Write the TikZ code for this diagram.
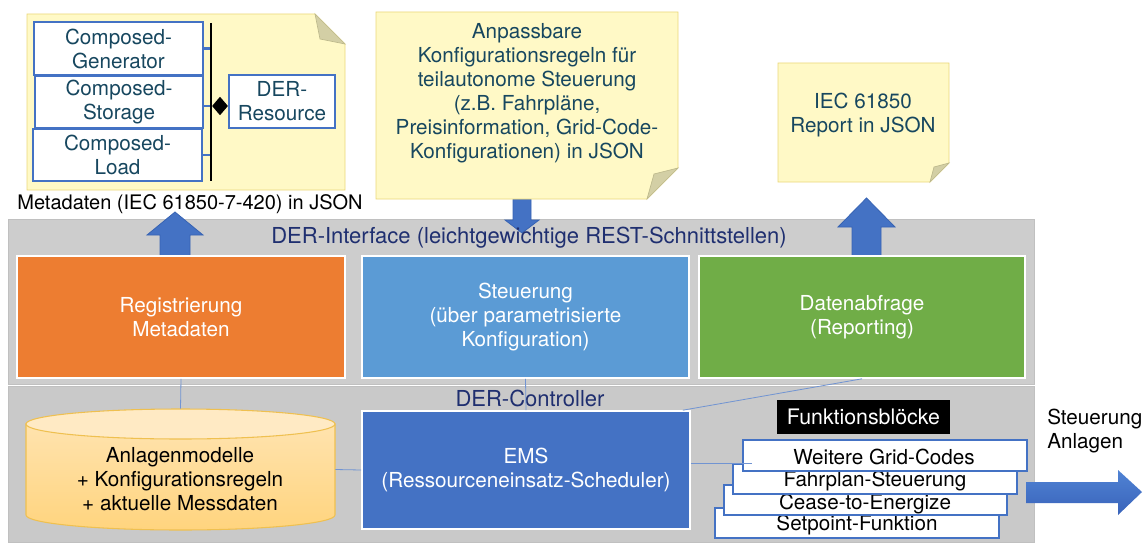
\documentclass[tikz,border=0pt]{standalone}
\usepackage{fontspec}
\setmainfont{TeX Gyre Heros}
\usetikzlibrary{fit,calc,shapes.geometric}

\definecolor{notefill}{HTML}{FFF9C6}
\definecolor{noteedge}{HTML}{EBD77A}
\definecolor{foldfill}{HTML}{D3CFA5}
\definecolor{foldedge}{HTML}{BDB98C}
\definecolor{notetext}{HTML}{17475F}
\definecolor{umlblue}{HTML}{4472C4}
\definecolor{bandgray}{HTML}{CDCDCD}
\definecolor{bandgraylow}{HTML}{C9C9C9}
\definecolor{bandedge}{HTML}{C0C0C0}
\definecolor{labelnavy}{HTML}{1F2F70}
\definecolor{orangebox}{HTML}{ED7D31}
\definecolor{bluebox}{HTML}{5B9BD5}
\definecolor{greenbox}{HTML}{70AD47}
\definecolor{emsblue}{HTML}{4472C4}
\definecolor{arrowblue}{HTML}{4472C4}
\definecolor{arrowedge}{HTML}{3763B3}
\definecolor{arrowlight}{HTML}{5083D4}
\definecolor{arrowdark}{HTML}{3963BA}
\definecolor{linkblue}{HTML}{7194D2}
\definecolor{cyltop}{HTML}{FFEAC4}
\definecolor{cylhigh}{HTML}{FFE3AE}
\definecolor{cyllow}{HTML}{FFD47E}
\definecolor{cyledge}{HTML}{EFC050}

\begin{document}
\begin{tikzpicture}[x=0.75pt, y=-0.75pt,
  every node/.style={font=\fontsize{15.5}{18}\selectfont, inner sep=0pt, align=center},
  area/.style={fit={#1}, inner sep=0pt},
  notepaper/.style={fill=notefill, draw=noteedge, line width=0.6pt},
  notefold/.style={fill=foldfill, draw=foldedge, line width=0.5pt},
  umlbox/.style={draw=umlblue, line width=0.8pt, fill=white},
  notelabel/.style={text=notetext},
  layerlabel/.style={text=labelnavy, font=\fontsize{16.5}{19}\selectfont},
  layer/.style={draw=bandedge, line width=0.5pt},
  func/.style={draw=white, line width=1.2pt},
  funclabel/.style={text=white},
  funcblock/.style={draw=umlblue, line width=0.8pt, fill=white},
  link/.style={draw=linkblue, line width=0.6pt},
  bustick/.style={draw=umlblue, line width=1.6pt},
  bigarrow/.style={fill=arrowblue, draw=arrowedge, line width=0.6pt},
]
\useasboundingbox (0,0) rectangle (1148,542);

% ---- two layers of the DER stack
\node[layer, fill=bandgray, area={(8,219) (1034,384)}] (iface) {};
\node[layer, fill=bandgraylow, area={(8,386) (1034,542)}] (ctrl) {};

% ---- block arrows between the JSON documents and the interface
\path[bigarrow] (160,256) -- (160,235) -- (147,235) -- (175,212) -- (203,235)
  -- (190,235) -- (190,256) -- cycle;
\path[bigarrow] (513,199) -- (531,199) -- (531,220) -- (539,220) -- (522,233)
  -- (505,220) -- (513,220) -- cycle;
\path[bigarrow] (852,256) -- (852,227) -- (838,227) -- (866.5,198) -- (895,227)
  -- (881,227) -- (881,256) -- cycle;

\node[layerlabel] (ifacelbl) at (529,238) {DER-Interface (leichtgewichtige REST-Schnittstellen)};
\node[layerlabel] (ctrllbl) at (530,398) {DER-Controller};

% ---- interface functions
\node[func, fill=orangebox, area={(17,256) (345,378)}] (reg) {};
\node[funclabel] (regtext) at (reg.center) {Registrierung\\Metadaten};
\node[func, fill=bluebox, area={(362,256) (689,378)}] (ctl) {};
\node[funclabel] (ctltext) at (ctl.center) {Steuerung\\(über parametrisierte\\Konfiguration)};
\node[func, fill=greenbox, area={(699,256) (1025,378)}] (rep) {};
\node[funclabel] (reptextbox) at (rep.center) {Datenabfrage\\(Reporting)};

% ---- data store (cylinder)
\path[draw=cyledge, line width=0.8pt, top color=cylhigh, bottom color=cyllow]
  (26,424) -- (26,515) arc[start angle=180, end angle=0, x radius=154.5, y radius=15]
  -- (335,424) -- cycle;
\path[draw=cyledge, line width=0.8pt, fill=cyltop] (180.5,424) ellipse [x radius=154.5, y radius=15];
\node[area={(26,409) (335,530)}] (db) {};
\node (dbtext) at (180,479) {Anlagenmodelle\\+ Konfigurationsregeln\\+ aktuelle Messdaten};

% ---- scheduler
\node[func, fill=emsblue, area={(362,411) (690,529)}] (ems) {};
\node[funclabel] (emstext) at (ems.center) {EMS\\(Ressourceneinsatz-Scheduler)};

% ---- function blocks
\node[fill=black, area={(777,400) (950,434)}] (fb) {};
\node[funclabel, font=\fontsize{16}{19}\selectfont] (fbtext) at (fb.center) {Funktionsblöcke};
\node[funcblock, area={(715,508) (999,538)}] (sp) {};
\node (sptext) at (857,525) {Setpoint-Funktion};
\node[funcblock, area={(724,485) (1007,515)}] (ce) {};
\node (cetext) at (865,504) {Cease-to-Energize};
\node[funcblock, area={(733,464) (1017,494)}] (fp) {};
\node (fptext) at (875,481) {Fahrplan-Steuerung};
\node[funcblock, area={(743,440) (1027,471)}] (wg) {};
\node (wgtext) at (884,457) {Weitere Grid-Codes};
\coordinate (wgin) at (752,463);

% ---- thin connections
\draw[link] (reg.south) -- (db.north);
\draw[link] (ctl.south) -- (ems.north);
\draw[link] (rep.south) -- ([xshift=-6pt]ems.north east);
\draw[link] (db.east) -- (ems.west);
\draw[link] (ems.east |- wgin) -- (wgin);

% ---- output to the plants
\path[top color=arrowlight, bottom color=arrowdark, draw=none]
  (1026,482) -- (1118,482) -- (1118,470) -- (1142,492) -- (1118,515)
  -- (1118,503) -- (1026,503) -- cycle;
\node[align=left, anchor=west] (out) at (1047,431) {Steuerung\\Anlagen};

% ---- metadata note with the class diagram
\path[notepaper] (27,14) -- (315,14) -- (345,44) -- (345,190) -- (27,190) -- cycle;
\path[notefold] (315,14) -- (320,39) -- (345,44) -- cycle;
\node[umlbox, area={(34,22) (203,75)}] (cgen) {};
\node[notelabel] (cgentext) at (cgen.center) {Composed-\\Generator};
\node[umlbox, area={(35,76) (203,128)}] (csto) {};
\node[notelabel] (cstotext) at (csto.center) {Composed-\\Storage};
\node[umlbox, area={(33,129) (202,181)}] (cload) {};
\node[notelabel] (cloadtext) at (cload.center) {Composed-\\Load};
\node[umlbox, area={(229,75) (335,128)}] (derres) {};
\node[notelabel] (derrestext) at (derres.center) {DER-\\Resource};
\coordinate (bustop) at (211,23);
\coordinate (busbot) at (211,181);
\draw[bustick] (cgen.east) -- (cgen.east -| bustop);
\draw[bustick] ([yshift=-3pt]csto.east) -- ([yshift=-3pt]csto.east -| bustop);
\draw[bustick] (cload.east) -- (cload.east -| bustop);
\draw[line width=2pt] (bustop) -- (busbot);
\node[diamond, fill=black, minimum width=12pt, minimum height=14pt] (agg) at (220,106) {};
\node[font=\fontsize{15}{18}\selectfont] (metalbl) at (190,204) {Metadaten (IEC 61850-7-420) in JSON};

% ---- configuration note
\path[notepaper] (376,12) -- (678,12) -- (678,168) -- (647,199) -- (376,199) -- cycle;
\path[notefold] (678,168) -- (654,174) -- (647,199) -- cycle;
\node[notelabel] (cfgtext) at (527,93) {Anpassbare\\Konfigurationsregeln für\\teilautonome Steuerung\\(z.B. Fahrpläne,\\Preisinformation, Grid-Code-\\Konfigurationen) in JSON};

% ---- report note
\path[notepaper] (778,63) -- (949,63) -- (949,163) -- (930,182) -- (778,182) -- cycle;
\path[notefold] (949,163) -- (934,167) -- (930,182) -- cycle;
\node[notelabel] (reptext) at (863,115) {IEC 61850\\Report in JSON};
\end{tikzpicture}
\end{document}
